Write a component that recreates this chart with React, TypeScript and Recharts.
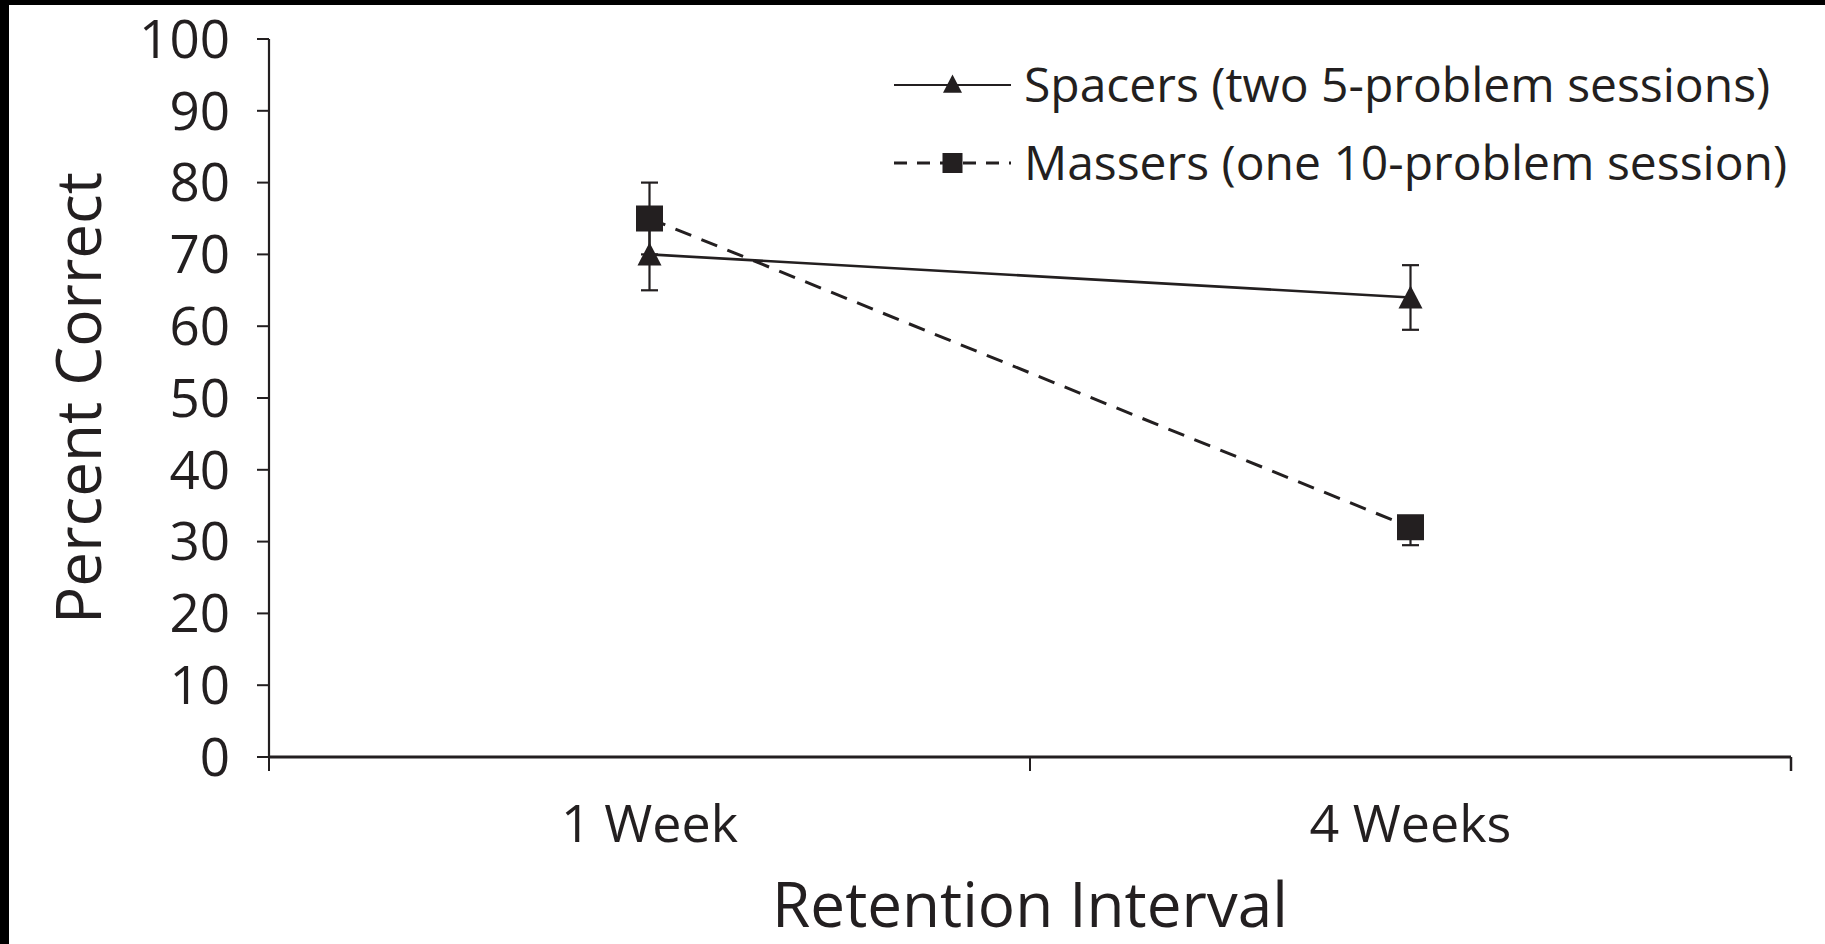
import React from 'react';
import { LineChart, Line, XAxis, YAxis, ErrorBar } from 'recharts';

const categories = ['1 Week', '4 Weeks'];
const seriesNames = ['Spacers (two 5-problem sessions)', 'Massers (one 10-problem session)'];
const spacersValues = [70, 64];
const spacersErrors = [[5, 5], [4.5, 4.5]];
const massersValues = [75, 32];
const massersErrors = [[5, 5], [2.5, 1.5]];
const yTicks = [0, 10, 20, 30, 40, 50, 60, 70, 80, 90, 100];
const xTitle = 'Retention Interval';
const yTitle = 'Percent Correct';

const data = categories.map((c, i) => ({
  interval: c,
  spacers: spacersValues[i],
  spacersErr: spacersErrors[i],
  massers: massersValues[i],
  massersErr: massersErrors[i],
}));

const INK = '#231f20';
const FONT = '"Open Sans", "Noto Sans", sans-serif';

const Triangle = (props: any) => {
  const { cx, cy, size = 12 } = props;
  if (cx == null || cy == null) return null;
  return (
    <path
      d={`M${cx},${cy - size} L${cx + size},${cy + size * 0.92} L${cx - size},${cy + size * 0.92} Z`}
      fill={INK}
    />
  );
};

const Square = (props: any) => {
  const { cx, cy, w = 27, h = 26 } = props;
  if (cx == null || cy == null) return null;
  return <rect x={cx - w / 2} y={cy - h / 2} width={w} height={h} fill={INK} />;
};

const XTick = (props: any) => {
  const { x, y, payload, index, visibleTicksCount, width } = props;
  const half = payload && payload.offset != null ? payload.offset : width / visibleTicksCount / 2;
  const left = x - half;
  const right = x + half;
  return (
    <g>
      <line x1={left} y1={y} x2={left} y2={y + 14} stroke={INK} strokeWidth={2} />
      {index === visibleTicksCount - 1 && (
        <line x1={right} y1={y} x2={right} y2={y + 14} stroke={INK} strokeWidth={2.5} />
      )}
      <text x={x} y={y + 85} textAnchor="middle" fill={INK} fontSize={52} fontFamily={FONT}>
        {payload.value}
      </text>
    </g>
  );
};

const YTitle = (props: any) => {
  const vb = props.viewBox || {};
  const cy = vb.y + vb.height / 2;
  const bx = 101;
  return (
    <text
      x={bx}
      y={cy}
      transform={`rotate(-90, ${bx}, ${cy})`}
      textAnchor="middle"
      fill={INK}
      fontSize={62}
      fontFamily={FONT}
    >
      {yTitle}
    </text>
  );
};

const XTitle = (props: any) => {
  const vb = props.viewBox || {};
  const cx = vb.x + vb.width / 2;
  return (
    <text x={cx} y={927} textAnchor="middle" fill={INK} fontSize={62} fontFamily={FONT}>
      {xTitle}
    </text>
  );
};

const LegendBlock = () => {
  const x0 = 894;
  const x1 = 1011;
  const mid = (x0 + x1) / 2;
  const tx = 1024;
  const rows = [85, 163];
  return (
    <g>
      <line x1={x0} y1={rows[0]} x2={x1} y2={rows[0]} stroke={INK} strokeWidth={2.2} />
      <Triangle cx={mid} cy={rows[0] - 1} size={9.5} />
      <text x={tx} y={rows[0] + 17} fill={INK} fontSize={48} fontFamily={FONT}>
        {seriesNames[0]}
      </text>
      <line
        x1={x0}
        y1={rows[1]}
        x2={x1}
        y2={rows[1]}
        stroke={INK}
        strokeWidth={2.8}
        strokeDasharray="13 10"
      />
      <Square cx={mid} cy={rows[1]} w={20} h={20} />
      <text x={tx} y={rows[1] + 17} fill={INK} fontSize={48} fontFamily={FONT}>
        {seriesNames[1]}
      </text>
    </g>
  );
};

export default function App() {
  return (
    <div
      style={{
        position: 'absolute',
        left: 0,
        top: 0,
        width: 1825,
        height: 944,
        background: '#ffffff',
        overflow: 'hidden',
      }}
    >
      <LineChart
        width={1825}
        height={944}
        data={data}
        margin={{ top: 39, right: 34, bottom: 0, left: 0 }}
      >
        <XAxis
          dataKey="interval"
          scale="band"
          height={187}
          axisLine={{ stroke: INK, strokeWidth: 2.8 }}
          tickLine={false}
          tickSize={0}
          tickMargin={0}
          tick={<XTick />}
          interval={0}
          label={<XTitle />}
        />
        <YAxis
          domain={[0, 100]}
          ticks={yTicks}
          width={269}
          interval={0}
          axisLine={{ stroke: INK, strokeWidth: 2.2 }}
          tickLine={{ stroke: INK, strokeWidth: 2 }}
          tickSize={12}
          tickMargin={27}
          tick={{ fill: INK, fontSize: 53, fontFamily: FONT }}
          label={<YTitle />}
        />
        <Line
          name={seriesNames[1]}
          dataKey="massers"
          stroke={INK}
          strokeWidth={3}
          strokeDasharray="17 11"
          dot={<Square />}
          activeDot={false}
          isAnimationActive={false}
        >
          <ErrorBar dataKey="massersErr" direction="y" width={8.5} stroke={INK} strokeWidth={2.2} />
        </Line>
        <Line
          name={seriesNames[0]}
          dataKey="spacers"
          stroke={INK}
          strokeWidth={2.6}
          dot={<Triangle size={12} />}
          activeDot={false}
          isAnimationActive={false}
        >
          <ErrorBar dataKey="spacersErr" direction="y" width={8.5} stroke={INK} strokeWidth={2.2} />
        </Line>
        <LegendBlock />
      </LineChart>
      <div style={{ position: 'absolute', left: 0, top: 0, width: 9, height: 944, background: '#000' }} />
      <div style={{ position: 'absolute', left: 0, top: 0, width: 1825, height: 5, background: '#000' }} />
    </div>
  );
}
